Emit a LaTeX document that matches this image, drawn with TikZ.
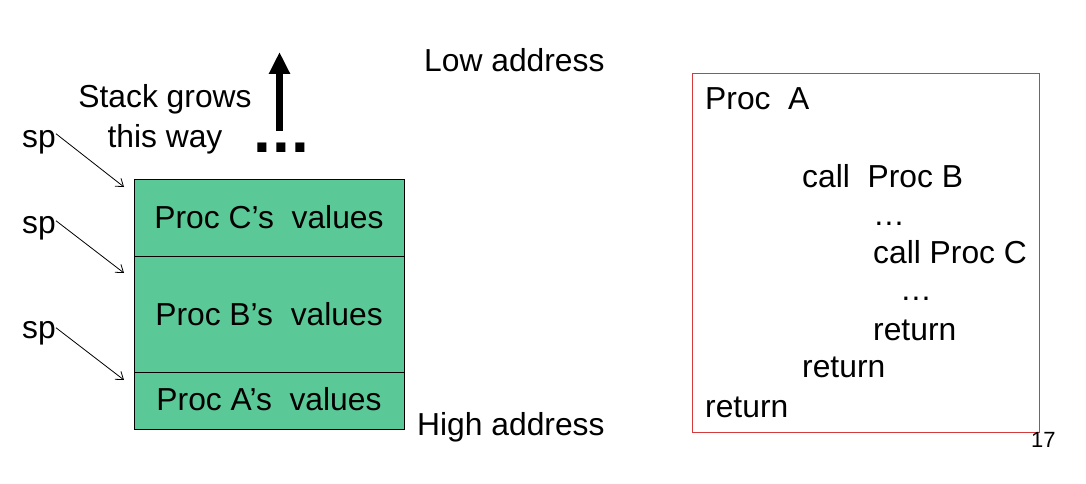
\documentclass[tikz,border=0pt]{standalone}
\usepackage{fontspec}
\setmainfont{Liberation Sans}
\usetikzlibrary{arrows.meta}
\definecolor{stackgreen}{RGB}{91,201,151}
\definecolor{boxred}{RGB}{210,60,60}

\begin{document}
\begin{tikzpicture}[x=1pt,y=1pt,yscale=-1,
    txt/.style={anchor=base west,inner sep=0pt,font=\fontsize{31.8}{38}\selectfont},
    ctxt/.style={anchor=base,inner sep=0pt,font=\fontsize{31.8}{38}\selectfont},
    spline/.style={line width=0.8pt,-{Straight Barb[length=7pt,width=10pt]}}]
        \useasboundingbox (0,0) rectangle (1086,484);

        %Shape: Stack frames
        \draw [fill=stackgreen,line width=0.8pt] (134,179) rectangle (404,256);
        \draw [fill=stackgreen,line width=0.8pt] (134,256) rectangle (404,372);
        \draw [fill=stackgreen,line width=0.8pt] (134,372) rectangle (404,429);
        \coordinate (topC) at (124,187);
        \coordinate (topB) at (124,273);
        \coordinate (topA) at (124,380);

        % Text Node
        \node (procC) [ctxt] at (269,228) {Proc C’s\ \ values};
        \node (procB) [ctxt] at (269,325) {Proc B’s\ \ values};
        \node (procA) [ctxt] at (269,410) {Proc A’s\ \ values};

        % Text Node
        \node (sp1) [txt] at (22,147) {sp};
        \node (sp2) [txt] at (22,233) {sp};
        \node (sp3) [txt] at (22,338) {sp};

        %Straight Lines
        \draw [spline] (sp1.east) ++(0,-8) -- (topC);
        \draw [spline] (sp2.east) ++(0,-7) -- (topB);
        \draw [spline] (sp3.east) ++(0,-5) -- (topA);

        % Text Node
        \node (grows) [ctxt] at (165,108) {Stack grows};
        \node (way) [ctxt] at (165,147) {this way};

        %Big arrow
        \coordinate (growbot) at (279.5,131);
        \coordinate (growtop) at (279.5,52);
        \draw [line width=7pt,-{Triangle[length=22pt,width=20pt]}] (growbot) -- (growtop);
        \node (dots) [anchor=base west,inner sep=0pt,font=\fontsize{64}{70}\selectfont\bfseries] at (253,153) {.\kern1.5pt.\kern1.5pt.};

        % Text Node
        \node (low) [txt] at (424,72) {Low address};
        \node (high) [txt] at (417,435) {High address};

        %Shape: Rectangle
        \draw [boxred,line width=0.9pt] (692,73) rectangle (1039,432);

        % Text Node
        \node (pa) [txt] at (705,110) {Proc\ \ A};
        \node (cb) [txt] at (802,187) {call\ \ Proc B};
        \node (e1) [txt] at (873,225) {…};
        \node (cc) [txt] at (873,263) {call Proc C};
        \node (e2) [txt] at (900,300) {…};
        \node (r1) [txt] at (873,340) {return};
        \node (r2) [txt] at (802,377) {return};
        \node (r3) [txt] at (705,417) {return};

        \node (page) [anchor=base west,inner sep=0pt,font=\fontsize{22}{26}\selectfont] at (1031,447) {17};

\end{tikzpicture}
\end{document}
